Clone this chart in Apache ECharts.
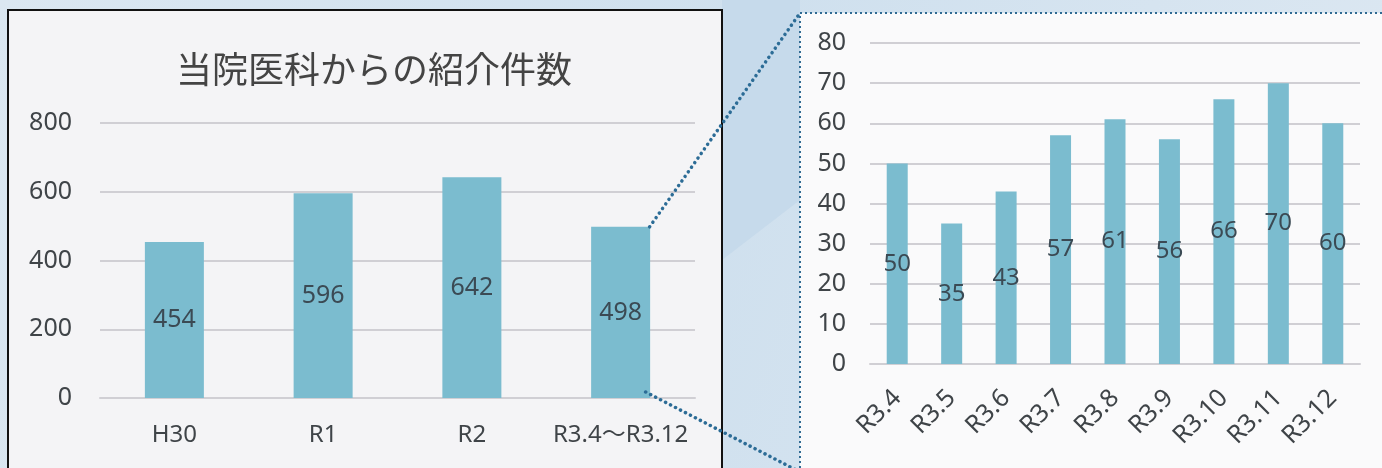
<!DOCTYPE html>
<html>
<head>
<meta charset="utf-8">
<script src="https://cdn.jsdelivr.net/npm/echarts@6/dist/echarts.min.js"></script>
<style>
  html, body { margin: 0; padding: 0; background: #d6e4ef; }
  #main { width: 1382px; height: 468px; }
</style>
</head>
<body>
<div id="main"></div>
<script>
  // 年度別
  var yearCats = ['H30', 'R1', 'R2', 'R3.4～R3.12'];
  var yearVals = [454, 596, 642, 498];
  // 月別 (R3.4～R3.12)
  var monthCats = ['R3.4', 'R3.5', 'R3.6', 'R3.7', 'R3.8', 'R3.9', 'R3.10', 'R3.11', 'R3.12'];
  var monthVals = [50, 35, 43, 57, 61, 56, 66, 70, 60];

  var font = '"Noto Sans", "Noto Sans CJK JP", sans-serif';
  var titleFont = '"Noto Sans CJK JP", sans-serif';
  var barColor = '#7bbccf';
  var gridColor = '#d0cfd4';
  var textColor = '#3f4448';

  var myChart = echarts.init(document.getElementById('main'));

  var option = {
    backgroundColor: {
      type: 'linear', x: 0, y: 0, x2: 1, y2: 1,
      colorStops: [
        {offset: 0, color: '#dbe7f1'},
        {offset: 0.5, color: '#cfe0ee'},
        {offset: 1, color: '#dde8f2'}
      ]
    },
    animation: false,
    textStyle: {fontFamily: font},
    title: {
      text: '当院医科からの紹介件数',
      left: 369,
      top: 46,
      textAlign: 'center',
      textStyle: {fontSize: 36, fontWeight: 'normal', color: '#444', fontFamily: titleFont}
    },
    grid: [
      {left: 100, right: 687, top: 123, bottom: 70},
      {left: 870, right: 22, top: 43, bottom: 104}
    ],
    xAxis: [
      {
        type: 'category', gridIndex: 0, data: yearCats,
        axisLine: {lineStyle: {color: gridColor, width: 2}},
        axisTick: {show: false},
        axisLabel: {color: textColor, fontSize: 24, margin: 25, interval: 0, fontFamily: font}
      },
      {
        type: 'category', gridIndex: 1, data: monthCats,
        axisLine: {lineStyle: {color: gridColor, width: 2}},
        axisTick: {show: false},
        axisLabel: {color: textColor, fontSize: 25, margin: 30, rotate: 45, interval: 0, fontFamily: font}
      }
    ],
    yAxis: [
      {
        type: 'value', gridIndex: 0, min: 0, max: 800, interval: 200,
        axisLine: {show: false}, axisTick: {show: false},
        splitLine: {lineStyle: {color: gridColor, width: 2}},
        axisLabel: {color: textColor, fontSize: 25, margin: 28, fontFamily: font}
      },
      {
        type: 'value', gridIndex: 1, min: 0, max: 80, interval: 10,
        axisLine: {show: false}, axisTick: {show: false},
        splitLine: {lineStyle: {color: gridColor, width: 2}},
        axisLabel: {color: textColor, fontSize: 25, margin: 24, fontFamily: font}
      }
    ],
    series: [
      {
        type: 'bar', xAxisIndex: 0, yAxisIndex: 0, data: yearVals,
        barWidth: 59,
        itemStyle: {color: barColor},
        label: {show: true, position: 'inside', color: '#3b4a54', fontSize: 25, fontFamily: font}
      },
      {
        type: 'bar', xAxisIndex: 1, yAxisIndex: 1, data: monthVals,
        barWidth: 21,
        itemStyle: {color: barColor},
        label: {show: true, position: 'inside', color: '#3b4a54', fontSize: 24, fontFamily: font}
      }
    ]
  };
  myChart.setOption(option);

  // 枠と拡大線
  var last = yearCats.length - 1;
  var barTop = myChart.convertToPixel({xAxisIndex: 0, yAxisIndex: 0}, [last, yearVals[last]]);
  var barBase = myChart.convertToPixel({xAxisIndex: 0, yAxisIndex: 0}, [last, 0]);
  var cx = barTop[0] + 29;
  var dotted = {stroke: '#2c6c96', lineWidth: 3.5, lineDash: [0.1, 5.5], lineCap: 'round'};

  myChart.setOption({
    graphic: [
      {type: 'polygon', z: -20, shape: {points: [[722, 0], [800, 0], [800, 200], [722, 260]]},
        style: {fill: '#c6daeb'}},
      {type: 'rect', z: -10, shape: {x: 8, y: 10, width: 714, height: 480},
        style: {fill: '#f4f4f6', stroke: '#111', lineWidth: 2}},
      {type: 'rect', z: -10, shape: {x: 800, y: 13, width: 600, height: 480},
        style: {fill: '#fafafb', stroke: '#2f6a92', lineWidth: 2, lineDash: [2, 3]}},
      {type: 'line', z: 100, shape: {x1: cx, y1: barTop[1], x2: 800, y2: 13}, style: dotted},
      {type: 'line', z: 100, shape: {x1: cx - 4, y1: barBase[1] - 6, x2: 800, y2: 472}, style: dotted}
    ]
  });
</script>
</body>
</html>
